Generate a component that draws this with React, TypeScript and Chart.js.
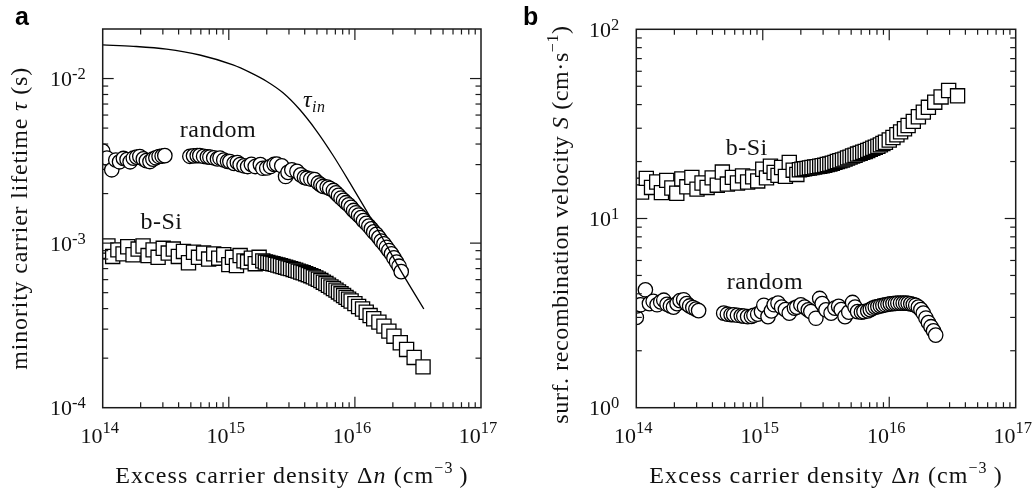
import React, { useEffect, useRef } from 'react';
import { Chart, registerables } from 'chart.js';

Chart.register(...registerables);

// ---------------- data ----------------
// random texture (circles): excess carrier density (cm^-3)
const randomX = [
  1.00e14, 1.01e14, 1.08e14, 1.18e14, 1.27e14, 1.36e14, 1.46e14, 1.56e14, 1.65e14, 1.75e14,
  1.86e14, 1.97e14, 2.10e14, 2.22e14, 2.37e14, 2.50e14, 2.64e14, 2.80e14, 2.96e14, 3.11e14,
  4.91e14, 5.25e14, 5.62e14, 5.89e14, 6.31e14, 6.76e14, 7.08e14, 7.59e14, 8.13e14, 8.51e14,
  9.12e14, 9.77e14, 1.02e15, 1.10e15, 1.17e15, 1.23e15, 1.32e15, 1.41e15, 1.51e15, 1.62e15,
  1.78e15, 1.86e15, 2.00e15, 2.14e15, 2.29e15, 2.40e15, 2.63e15, 2.82e15, 2.95e15, 3.16e15,
  3.47e15, 3.72e15, 3.98e15, 4.17e15, 4.47e15, 4.79e15, 5.13e15, 5.37e15, 5.62e15, 6.03e15,
  6.31e15, 6.76e15, 7.08e15, 7.41e15, 7.76e15, 8.13e15, 8.51e15, 8.91e15, 9.33e15, 9.77e15,
  1.02e16, 1.07e16, 1.12e16, 1.17e16, 1.23e16, 1.29e16, 1.35e16, 1.41e16, 1.48e16, 1.55e16,
  1.62e16, 1.70e16, 1.78e16, 1.86e16, 1.95e16, 2.04e16, 2.14e16, 2.24e16, 2.33e16,
];
// minority carrier lifetime (s), random
const randomTau = [
  3.62e-3, 3.10e-3, 3.29e-3, 2.79e-3, 3.20e-3, 3.12e-3, 3.27e-3, 3.22e-3, 3.12e-3, 3.28e-3,
  3.33e-3, 3.36e-3, 3.25e-3, 3.17e-3, 3.13e-3, 3.24e-3, 3.30e-3, 3.36e-3, 3.38e-3, 3.40e-3,
  3.37e-3, 3.39e-3, 3.40e-3, 3.40e-3, 3.37e-3, 3.34e-3, 3.33e-3, 3.30e-3, 3.25e-3, 3.29e-3,
  3.20e-3, 3.14e-3, 3.13e-3, 3.05e-3, 3.09e-3, 3.00e-3, 2.95e-3, 2.92e-3, 3.01e-3, 2.92e-3,
  3.00e-3, 2.85e-3, 2.86e-3, 2.92e-3, 3.01e-3, 3.02e-3, 2.95e-3, 2.54e-3, 2.69e-3, 2.79e-3,
  2.73e-3, 2.60e-3, 2.51e-3, 2.48e-3, 2.45e-3, 2.43e-3, 2.32e-3, 2.26e-3, 2.21e-3, 2.19e-3,
  2.15e-3, 2.09e-3, 2.02e-3, 1.95e-3, 1.88e-3, 1.82e-3, 1.76e-3, 1.71e-3, 1.65e-3, 1.58e-3,
  1.53e-3, 1.48e-3, 1.43e-3, 1.37e-3, 1.32e-3, 1.27e-3, 1.22e-3, 1.17e-3, 1.13e-3, 1.08e-3,
  1.03e-3, 9.89e-4, 9.44e-4, 9.02e-4, 8.61e-4, 8.13e-4, 7.67e-4, 7.24e-4, 6.71e-4,
];
// surface recombination velocity (cm/s), random
const randomS = [
  3.00, 3.45, 3.50, 4.20, 3.55, 3.65, 3.50, 3.62, 3.70, 3.52,
  3.45, 3.40, 3.55, 3.68, 3.72, 3.55, 3.45, 3.38, 3.32, 3.26,
  3.16, 3.12, 3.10, 3.10, 3.08, 3.06, 3.05, 3.03, 3.04, 3.08,
  3.12, 3.22, 3.48, 3.03, 3.25, 3.50, 3.57, 3.40, 3.30, 3.16,
  3.36, 3.40, 3.50, 3.40, 3.29, 3.22, 2.97, 3.78, 3.55, 3.29,
  3.16, 3.36, 3.43, 3.30, 3.03, 3.20, 3.60, 3.40, 3.22, 3.20,
  3.22, 3.25, 3.30, 3.36, 3.40, 3.42, 3.45, 3.47, 3.50, 3.52,
  3.54, 3.55, 3.56, 3.57, 3.57, 3.57, 3.57, 3.56, 3.54, 3.51,
  3.48, 3.40, 3.30, 3.16, 2.98, 2.82, 2.68, 2.55, 2.42,
];

// black silicon (squares)
const bSiX = [
  1.00e14, 1.10e14, 1.20e14, 1.32e14, 1.45e14, 1.58e14, 1.74e14, 1.91e14, 2.09e14, 2.29e14,
  2.51e14, 2.75e14, 3.02e14, 3.31e14, 3.63e14, 3.98e14, 4.37e14, 4.79e14, 5.25e14, 5.75e14,
  6.31e14, 6.92e14, 7.59e14, 8.32e14, 9.12e14, 1.00e15, 1.07e15, 1.15e15, 1.23e15, 1.32e15,
  1.41e15, 1.51e15, 1.62e15, 1.74e15, 1.86e15,
  1.95e15, 2.04e15, 2.14e15, 2.24e15, 2.34e15, 2.45e15, 2.57e15, 2.69e15, 2.82e15, 2.95e15,
  3.09e15, 3.24e15, 3.39e15, 3.55e15, 3.72e15, 3.89e15, 4.07e15, 4.27e15, 4.47e15, 4.68e15,
  4.90e15, 5.13e15, 5.37e15, 5.62e15, 5.89e15, 6.17e15, 6.46e15, 6.76e15, 7.08e15, 7.41e15,
  7.76e15, 8.13e15, 8.51e15, 8.91e15, 9.33e15,
  1.00e16, 1.07e16, 1.15e16, 1.23e16, 1.32e16, 1.41e16, 1.55e16, 1.70e16, 1.86e16, 2.04e16,
  2.29e16, 2.57e16, 2.95e16, 3.47e16,
];
const bSiTau = [
  8.9e-4, 9.6e-4, 8.3e-4, 9.1e-4, 8.6e-4, 9.5e-4, 8.5e-4, 9.2e-4, 9.6e-4, 8.4e-4,
  9.1e-4, 8.2e-4, 9.3e-4, 8.7e-4, 9.2e-4, 8.3e-4, 8.9e-4, 7.6e-4, 8.8e-4, 8.2e-4,
  8.7e-4, 8.0e-4, 8.6e-4, 8.1e-4, 8.5e-4, 7.4e-4, 8.2e-4, 7.3e-4, 8.4e-4, 7.8e-4,
  7.7e-4, 8.1e-4, 7.5e-4, 8.2e-4, 7.8e-4,
  7.67e-4, 7.62e-4, 7.55e-4, 7.50e-4, 7.43e-4, 7.36e-4, 7.29e-4, 7.21e-4, 7.14e-4, 7.06e-4,
  7.00e-4, 6.92e-4, 6.84e-4, 6.76e-4, 6.68e-4, 6.61e-4, 6.52e-4, 6.43e-4, 6.34e-4, 6.24e-4,
  6.14e-4, 6.03e-4, 5.92e-4, 5.79e-4, 5.68e-4, 5.55e-4, 5.42e-4, 5.30e-4, 5.18e-4, 5.05e-4,
  4.92e-4, 4.80e-4, 4.68e-4, 4.56e-4, 4.45e-4,
  4.29e-4, 4.12e-4, 3.98e-4, 3.80e-4, 3.63e-4, 3.47e-4, 3.31e-4, 3.13e-4, 2.92e-4, 2.72e-4,
  2.48e-4, 2.26e-4, 2.02e-4, 1.77e-4,
];
const bSiS = [
  15.0, 13.8, 16.3, 14.6, 15.6, 13.7, 15.9, 14.5, 13.6, 16.2,
  14.7, 16.5, 14.3, 15.4, 14.6, 16.4, 15.0, 17.6, 15.2, 16.5,
  15.4, 16.8, 15.6, 16.6, 15.8, 18.2, 16.4, 18.9, 17.5, 16.9,
  18.6, 16.7, 19.8, 18.0, 17.1,
  18.1, 18.2, 18.3, 18.4, 18.5, 18.6, 18.7, 18.8, 18.9, 19.0,
  19.1, 19.3, 19.4, 19.6, 19.8, 20.0, 20.2, 20.4, 20.6, 20.9,
  21.1, 21.4, 21.6, 21.9, 22.1, 22.4, 22.6, 22.9, 23.2, 23.5,
  23.8, 24.1, 24.5, 24.9, 25.3,
  26.0, 26.8, 27.7, 28.7, 29.8, 31.0, 32.6, 34.5, 36.5, 38.7,
  41.2, 43.9, 47.5, 44.5,
];

// intrinsic lifetime curve tau_in
const tauInX = [
  1.00e14, 1.75e14, 3.21e14, 5.89e14, 1.08e15, 1.47e15, 1.99e15, 2.69e15,
  3.65e15, 4.94e15, 6.70e15, 9.08e15, 1.23e16, 1.67e16, 2.26e16, 3.52e16,
];
const tauInY = [
  1.60e-2, 1.57e-2, 1.51e-2, 1.39e-2, 1.21e-2, 1.09e-2, 9.63e-3, 8.19e-3,
  6.48e-3, 4.83e-3, 3.42e-3, 2.34e-3, 1.58e-3, 1.06e-3, 7.00e-4, 3.98e-4,
];

// tick labels (powers of ten)
const xTickExponents = [14, 15, 16, 17];
const yTickExponentsA = [-4, -3, -2];
const yTickExponentsB = [0, 1, 2];

// ---------------- drawing helpers ----------------
const SERIF = '"Liberation Serif", "Times New Roman", serif';
const F = (size: number, italic = false) => `${italic ? 'italic ' : ''}${size}px ${SERIF}`;

type Seg = { t: string; font: string; dy?: number };

function segsWidth(ctx: CanvasRenderingContext2D, segs: Seg[]) {
  let w = 0;
  for (const s of segs) {
    ctx.font = s.font;
    w += ctx.measureText(s.t).width;
  }
  return w;
}

function drawSegs(ctx: CanvasRenderingContext2D, segs: Seg[], x: number, y: number, align: 'left' | 'center' | 'right') {
  const w = segsWidth(ctx, segs);
  let cx = align === 'left' ? x : align === 'center' ? x - w / 2 : x - w;
  ctx.textAlign = 'left';
  ctx.textBaseline = 'alphabetic';
  for (const s of segs) {
    ctx.font = s.font;
    ctx.fillText(s.t, cx, y + (s.dy || 0));
    cx += ctx.measureText(s.t).width;
  }
}

function logTicks(min: number, max: number) {
  const out: { v: number; major: boolean }[] = [];
  const e0 = Math.floor(Math.log10(min));
  const e1 = Math.ceil(Math.log10(max));
  for (let e = e0; e <= e1; e++) {
    for (let m = 1; m <= 9; m++) {
      const v = m * Math.pow(10, e);
      if (v >= min * 0.999999 && v <= max * 1.000001) out.push({ v, major: m === 1 });
    }
  }
  return out;
}

type Annot = { segs: Seg[]; x: number; y: number; align: 'left' | 'center' | 'right' };
type PanelCfg = {
  letter: string;
  letterX: number;
  yExps: number[];
  yTitle: Seg[];
  yTitleX: number;
  yTitleShift: number;
  yTitleSpacing: string;
  annots: Annot[];
};

function makePlugin(cfg: PanelCfg) {
  return {
    id: 'sciframe',
    afterDraw(chart: any) {
      const ctx: CanvasRenderingContext2D = chart.ctx;
      const a = chart.chartArea;
      const xs = chart.scales.x;
      const ys = chart.scales.y;
      ctx.save();
      ctx.strokeStyle = '#1a1a1a';
      ctx.fillStyle = '#111';
      ctx.lineWidth = 1.2;
      const seg = (x1: number, y1: number, x2: number, y2: number) => {
        ctx.beginPath();
        ctx.moveTo(x1, y1);
        ctx.lineTo(x2, y2);
        ctx.stroke();
      };
      // inward ticks on all four sides
      for (const t of logTicks(xs.min, xs.max)) {
        const px = xs.getPixelForValue(t.v);
        if (px <= a.left + 1 || px >= a.right - 1) continue;
        const L = t.major ? 11 : 5.5;
        seg(px, a.bottom, px, a.bottom - L);
        seg(px, a.top, px, a.top + L);
      }
      for (const t of logTicks(ys.min, ys.max)) {
        const py = ys.getPixelForValue(t.v);
        if (py <= a.top + 1 || py >= a.bottom - 1) continue;
        const L = t.major ? 11 : 5.5;
        seg(a.left, py, a.left + L, py);
        seg(a.right, py, a.right - L, py);
      }
      // frame
      ctx.lineWidth = 1.5;
      ctx.strokeRect(a.left, a.top, a.right - a.left, a.bottom - a.top);

      // x tick labels
      for (const e of xTickExponents) {
        const px = xs.getPixelForValue(Math.pow(10, e));
        drawSegs(ctx, [
          { t: '10', font: F(22) },
          { t: String(e), font: F(16.5), dy: -9.5 },
        ], px - 3, a.bottom + 35, 'center');
      }
      // y tick labels
      for (const e of cfg.yExps) {
        const py = ys.getPixelForValue(Math.pow(10, e));
        drawSegs(ctx, [
          { t: '10', font: F(22) },
          { t: String(e), font: F(16.5), dy: -7 },
        ], a.left - 17, py + 7.5, 'right');
      }

      // axis titles
      (ctx as any).letterSpacing = '1.1px';
      drawSegs(ctx, [
        { t: 'Excess carrier density \u0394', font: F(24) },
        { t: 'n', font: F(24, true) },
        { t: ' (cm', font: F(24) },
        { t: '\u22123', font: F(16), dy: -10 },
        { t: '\u2009)', font: F(24) },
      ], (a.left + a.right) / 2, 483, 'center');

      (ctx as any).letterSpacing = cfg.yTitleSpacing;
      ctx.save();
      ctx.translate(cfg.yTitleX, (a.top + a.bottom) / 2 + cfg.yTitleShift);
      ctx.rotate(-Math.PI / 2);
      drawSegs(ctx, cfg.yTitle, 0, 0, 'center');
      ctx.restore();

      // in-plot annotations
      (ctx as any).letterSpacing = '0.5px';
      for (const an of cfg.annots) drawSegs(ctx, an.segs, an.x, an.y, an.align);
      (ctx as any).letterSpacing = '0px';

      // panel letter
      ctx.font = 'bold 25px "Liberation Sans", Arial, sans-serif';
      ctx.fillStyle = '#000';
      ctx.textAlign = 'left';
      ctx.textBaseline = 'alphabetic';
      ctx.fillText(cfg.letter, cfg.letterX, 25);
      ctx.restore();
    },
  };
}

const pts = (xs: number[], ys: number[]) => xs.map((x, i) => ({ x, y: ys[i] }));

const circleStyle = {
  pointStyle: 'circle',
  pointRadius: 7.2,
  backgroundColor: '#ffffff',
  borderColor: '#000000',
  borderWidth: 1.3,
  showLine: false,
};
const squareStyle = {
  pointStyle: 'rect',
  pointRadius: 10,
  backgroundColor: '#ffffff',
  borderColor: '#000000',
  borderWidth: 1.3,
  showLine: false,
};

function baseOptions(padding: any, yMin: number, yMax: number) {
  return {
    responsive: false,
    animation: false,
    devicePixelRatio: 1,
    events: [],
    layout: { padding },
    plugins: { legend: { display: false }, tooltip: { enabled: false } },
    scales: {
      x: { type: 'logarithmic', min: 1e14, max: 1e17, display: false },
      y: { type: 'logarithmic', min: yMin, max: yMax, display: false },
    },
  };
}

function configA(): any {
  return {
    type: 'scatter',
    data: {
      datasets: [
        {
          label: 'tau_in',
          data: pts(tauInX, tauInY),
          showLine: true,
          borderColor: '#000',
          borderWidth: 1.3,
          pointRadius: 0,
          fill: false,
          cubicInterpolationMode: 'monotone',
        },
        { label: 'random', data: pts(randomX, randomTau), ...circleStyle },
        { label: 'b-Si', data: pts(bSiX, bSiTau), ...squareStyle },
      ],
    },
    options: baseOptions({ left: 102.7, top: 29, right: 37, bottom: 84.3 }, 1e-4, 2e-2),
    plugins: [
      makePlugin({
        letter: 'a',
        letterX: 15,
        yExps: yTickExponentsA,
        yTitleX: 27,
        yTitleShift: 0,
        yTitleSpacing: '0.8px',
        yTitle: [
          { t: 'minority carrier lifetime ', font: F(24) },
          { t: '\u03C4', font: F(24, true) },
          { t: ' (s)', font: F(24) },
        ],
        annots: [
          { segs: [{ t: 'random', font: F(24) }], x: 218, y: 137, align: 'center' },
          { segs: [{ t: 'b-Si', font: F(24) }], x: 161.5, y: 229, align: 'center' },
          {
            segs: [
              { t: '\u03C4', font: F(24, true) },
              { t: 'in', font: F(16, true), dy: 5 },
            ],
            x: 303,
            y: 107,
            align: 'left',
          },
        ],
      }),
    ],
  };
}

function configB(): any {
  return {
    type: 'scatter',
    data: {
      datasets: [
        { label: 'random', data: pts(randomX, randomS), ...circleStyle },
        { label: 'b-Si', data: pts(bSiX, bSiS), ...squareStyle },
      ],
    },
    options: baseOptions({ left: 118.3, top: 29.3, right: 20.3, bottom: 84.3 }, 1, 100),
    plugins: [
      makePlugin({
        letter: 'b',
        letterX: 5,
        yExps: yTickExponentsB,
        yTitleX: 50,
        yTitleShift: 6,
        yTitleSpacing: '0.6px',
        yTitle: [
          { t: 'surf. recombination velocity ', font: F(24) },
          { t: 'S', font: F(24, true) },
          { t: ' (cm\u00B7s', font: F(24) },
          { t: '\u22121', font: F(16), dy: -10 },
          { t: ')', font: F(24) },
        ],
        annots: [
          { segs: [{ t: 'b-Si', font: F(24) }], x: 228.7, y: 155, align: 'center' },
          { segs: [{ t: 'random', font: F(24) }], x: 247, y: 289, align: 'center' },
        ],
      }),
    ],
  };
}

function Panel({ left, make }: { left: number; make: () => any }) {
  const ref = useRef<HTMLCanvasElement>(null);
  useEffect(() => {
    const chart = new Chart(ref.current as HTMLCanvasElement, make());
    return () => chart.destroy();
  }, []);
  return (
    <canvas
      ref={ref}
      width={518}
      height={492}
      style={{ position: 'absolute', left, top: 0, width: 518, height: 492 }}
    />
  );
}

export default function App() {
  return (
    <div style={{ position: 'absolute', left: 0, top: 0, width: 1036, height: 492, background: '#fff', overflow: 'hidden' }}>
      <Panel left={0} make={configA} />
      <Panel left={518} make={configB} />
    </div>
  );
}
